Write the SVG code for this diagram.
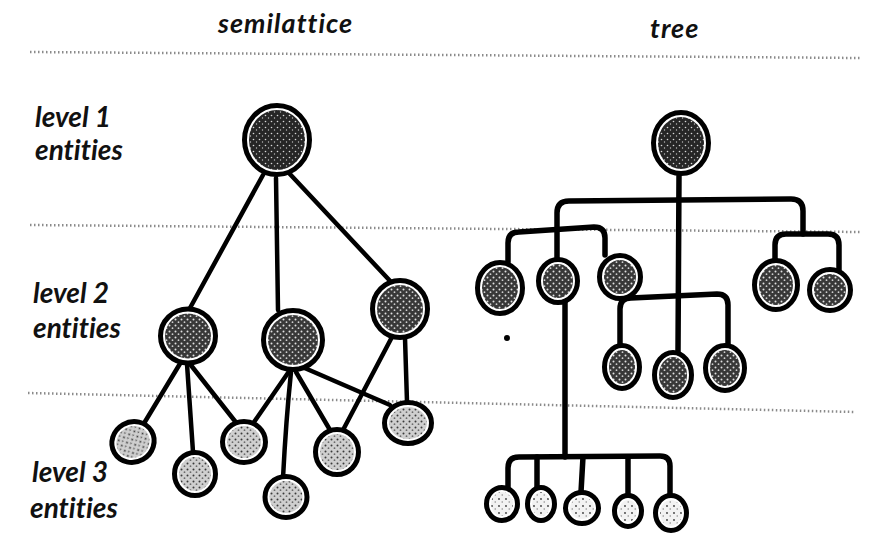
<svg xmlns="http://www.w3.org/2000/svg" width="873" height="552" viewBox="0 0 873 552">
  <style>
    .label { font-family: Lato, "Open Sans", "Liberation Sans", sans-serif; font-style: italic; font-weight: 700; fill: #111; font-variant-ligatures: none; }
    .title { font-size: 27px; letter-spacing: 1px; }
    .side { font-size: 28px; }
    .sep { stroke: #8a8a8a; stroke-width: 2.5; stroke-dasharray: 1.5 2.5; fill: none; }
    .edge { stroke: #000; stroke-width: 4.5; stroke-linecap: round; stroke-linejoin: round; fill: none; }
    .bar { stroke: #000; stroke-width: 5.5; stroke-linecap: round; stroke-linejoin: round; fill: none; }
    .ring { fill: #fff; stroke: #000; stroke-width: 5; }
    .dark { fill: url(#stippleDark); }
    .mid { fill: url(#stippleMid); }
    .light { fill: url(#stippleLight); }
    .pale { fill: url(#stipplePale); }
  </style>
  <defs>
    <pattern id="stippleDark" width="6" height="6" patternUnits="userSpaceOnUse">
      <rect width="6" height="6" fill="#262626"/>
      <circle cx="1.5" cy="1.5" r="0.8" fill="#d8d8d8"/>
      <circle cx="4.5" cy="4" r="0.7" fill="#bdbdbd"/>
    </pattern>
    <pattern id="stippleMid" width="6" height="6" patternUnits="userSpaceOnUse">
      <rect width="6" height="6" fill="#383838"/>
      <circle cx="1.5" cy="1.5" r="1" fill="#e0e0e0"/>
      <circle cx="4.5" cy="4.2" r="0.9" fill="#cfcfcf"/>
    </pattern>
    <pattern id="stippleLight" width="6" height="6" patternUnits="userSpaceOnUse">
      <rect width="6" height="6" fill="#cfcfcf"/>
      <circle cx="1.5" cy="1.5" r="1" fill="#3a3a3a"/>
      <circle cx="4.5" cy="4.2" r="0.9" fill="#6a6a6a"/>
    </pattern>
    <pattern id="stipplePale" width="7" height="7" patternUnits="userSpaceOnUse">
      <rect width="7" height="7" fill="#f2f2f2"/>
      <circle cx="2" cy="2" r="0.9" fill="#3a3a3a"/>
      <circle cx="5.2" cy="5" r="0.7" fill="#7a7a7a"/>
    </pattern>
  </defs>

  <rect width="873" height="552" fill="#fff"/>

  <!-- dotted level separators -->
  <g id="separators">
    <line class="sep" x1="30" y1="52" x2="860" y2="58"/>
    <line class="sep" x1="30" y1="225" x2="860" y2="232"/>
    <line class="sep" x1="28" y1="393" x2="855" y2="412"/>
  </g>

  <!-- headings and level labels -->
  <g id="labels">
    <text class="label title" x="218" y="33">semilattice</text>
    <text class="label title" x="650" y="38">tree</text>
    <text class="label side" x="35" y="127">level 1</text>
    <text class="label side" x="35" y="160">entities</text>
    <text class="label side" x="33" y="303">level 2</text>
    <text class="label side" x="33" y="338">entities</text>
    <text class="label side" x="32" y="482">level 3</text>
    <text class="label side" x="30" y="518">entities</text>
  </g>

  <!-- connectors -->
  <g id="connectors">
    <!-- semilattice -->
    <line class="edge" x1="263" y1="175" x2="190" y2="308"/>
    <line class="edge" x1="276" y1="178" x2="278" y2="310"/>
    <line class="edge" x1="288" y1="172" x2="392" y2="283"/>
    <line class="edge" x1="181" y1="362" x2="143" y2="425"/>
    <path class="edge" d="M187 364 Q190 410 193 452"/>
    <line class="edge" x1="190" y1="364" x2="238" y2="425"/>
    <line class="edge" x1="290" y1="370" x2="252" y2="425"/>
    <path class="edge" d="M291 372 Q286 420 283 478"/>
    <line class="edge" x1="296" y1="372" x2="330" y2="430"/>
    <line class="edge" x1="300" y1="366" x2="390" y2="405" stroke-width="6"/>
    <line class="edge" x1="392" y1="337" x2="343" y2="430"/>
    <line class="edge" x1="405" y1="338" x2="407" y2="402"/>
    <!-- tree -->
    <line class="bar" x1="679" y1="176" x2="678" y2="352"/>
    <path class="bar" d="M557 258 L557 213 Q557 201 569 201 L791 199 Q803 199 803 211 L803 234"/>
    <path class="bar" d="M508 262 L508 243 Q508 232 519 232 L594 227 Q605 227 605 238 L605 255"/>
    <path class="bar" d="M775 260 L775 245 Q775 234 786 234 L828 234 Q839 234 839 245 L839 272"/>
    <path class="bar" d="M620 345 L620 309 Q620 298 631 298 L717 294 Q728 294 728 305 L728 345"/>
    <line class="bar" x1="565" y1="302" x2="565" y2="457"/>
    <path class="bar" d="M508 490 L508 468 Q508 457 519 457 L660 456 Q670 456 670 466 L670 495"/>
    <line class="bar" x1="537" y1="457" x2="537" y2="487"/>
    <line class="bar" x1="583" y1="457" x2="581" y2="492"/>
    <line class="bar" x1="628" y1="457" x2="628" y2="495"/>
  </g>

  <!-- semilattice nodes -->
  <g id="s1"><ellipse class="ring" cx="277" cy="140" rx="32.5" ry="34.5"/><ellipse class="dark" cx="277" cy="140" rx="28" ry="30"/></g>
  <g id="s2a"><ellipse class="ring" cx="188" cy="336" rx="27.5" ry="27"/><ellipse class="mid" cx="188" cy="336" rx="23" ry="22.5"/></g>
  <g id="s2b"><ellipse class="ring" cx="293" cy="340" rx="29.5" ry="29.5"/><ellipse class="mid" cx="293" cy="340" rx="25" ry="25"/></g>
  <g id="s2c"><ellipse class="ring" cx="400" cy="309" rx="27.5" ry="28.5"/><ellipse class="mid" cx="400" cy="309" rx="23" ry="24"/></g>
  <g id="s3a"><ellipse class="ring" cx="133" cy="442" rx="21.5" ry="20" transform="rotate(-30 133 442)"/><ellipse class="light" cx="133" cy="442" rx="17" ry="15.5" transform="rotate(-30 133 442)"/></g>
  <g id="s3b"><ellipse class="ring" cx="195" cy="474" rx="20.5" ry="21.5"/><ellipse class="light" cx="195" cy="474" rx="16" ry="17"/></g>
  <g id="s3c"><ellipse class="ring" cx="244" cy="442" rx="21.5" ry="20.5"/><ellipse class="light" cx="244" cy="442" rx="17" ry="16"/></g>
  <g id="s3d"><ellipse class="ring" cx="286" cy="497" rx="21" ry="20.5"/><ellipse class="light" cx="286" cy="497" rx="16.5" ry="16"/></g>
  <g id="s3e"><ellipse class="ring" cx="337" cy="452" rx="21.5" ry="22.5"/><ellipse class="light" cx="337" cy="452" rx="17" ry="18"/></g>
  <g id="s3f"><ellipse class="ring" cx="408" cy="423" rx="23.5" ry="20.5"/><ellipse class="light" cx="408" cy="423" rx="19" ry="16"/></g>

  <!-- tree nodes -->
  <g id="t1"><ellipse class="ring" cx="681" cy="143" rx="27.5" ry="30.5"/><ellipse class="dark" cx="681" cy="143" rx="23" ry="26"/></g>
  <g id="t2a"><ellipse class="ring" cx="500" cy="288" rx="22.5" ry="25.5"/><ellipse class="mid" cx="500" cy="288" rx="18" ry="21"/></g>
  <g id="t2b"><ellipse class="ring" cx="558" cy="281" rx="19.5" ry="21.5"/><ellipse class="mid" cx="558" cy="281" rx="15" ry="17"/></g>
  <g id="t2c"><ellipse class="ring" cx="620" cy="277" rx="20.5" ry="21.5"/><ellipse class="mid" cx="620" cy="277" rx="16" ry="17"/></g>
  <g id="t2d"><ellipse class="ring" cx="776" cy="285" rx="21.5" ry="24.5"/><ellipse class="mid" cx="776" cy="285" rx="17" ry="20"/></g>
  <g id="t2e"><ellipse class="ring" cx="830" cy="290" rx="20.5" ry="20.5"/><ellipse class="mid" cx="830" cy="290" rx="16" ry="16"/></g>
  <g id="t3a"><ellipse class="ring" cx="622" cy="367" rx="17.5" ry="21.5"/><ellipse class="mid" cx="622" cy="367" rx="13" ry="17"/></g>
  <g id="t3b"><ellipse class="ring" cx="673" cy="375" rx="18.5" ry="22.5"/><ellipse class="mid" cx="673" cy="375" rx="14" ry="18"/></g>
  <g id="t3c"><ellipse class="ring" cx="725" cy="368" rx="19.5" ry="22.5"/><ellipse class="mid" cx="725" cy="368" rx="15" ry="18"/></g>
  <g id="t4a"><ellipse class="ring" cx="502" cy="504" rx="15.5" ry="16.5"/><ellipse class="pale" cx="502" cy="504" rx="11" ry="12"/></g>
  <g id="t4b"><ellipse class="ring" cx="541" cy="504" rx="13.5" ry="16.5"/><ellipse class="pale" cx="541" cy="504" rx="9" ry="12"/></g>
  <g id="t4c"><ellipse class="ring" cx="582" cy="508" rx="16.5" ry="15.5"/><ellipse class="pale" cx="582" cy="508" rx="12" ry="11"/></g>
  <g id="t4d"><ellipse class="ring" cx="628" cy="511" rx="13.5" ry="15.5"/><ellipse class="pale" cx="628" cy="511" rx="9" ry="11"/></g>
  <g id="t4e"><ellipse class="ring" cx="671" cy="513" rx="15.5" ry="17.5"/><ellipse class="pale" cx="671" cy="513" rx="11" ry="13"/></g>

  <!-- stray ink dot -->
  <circle cx="507" cy="338" r="3" fill="#000"/>
</svg>
